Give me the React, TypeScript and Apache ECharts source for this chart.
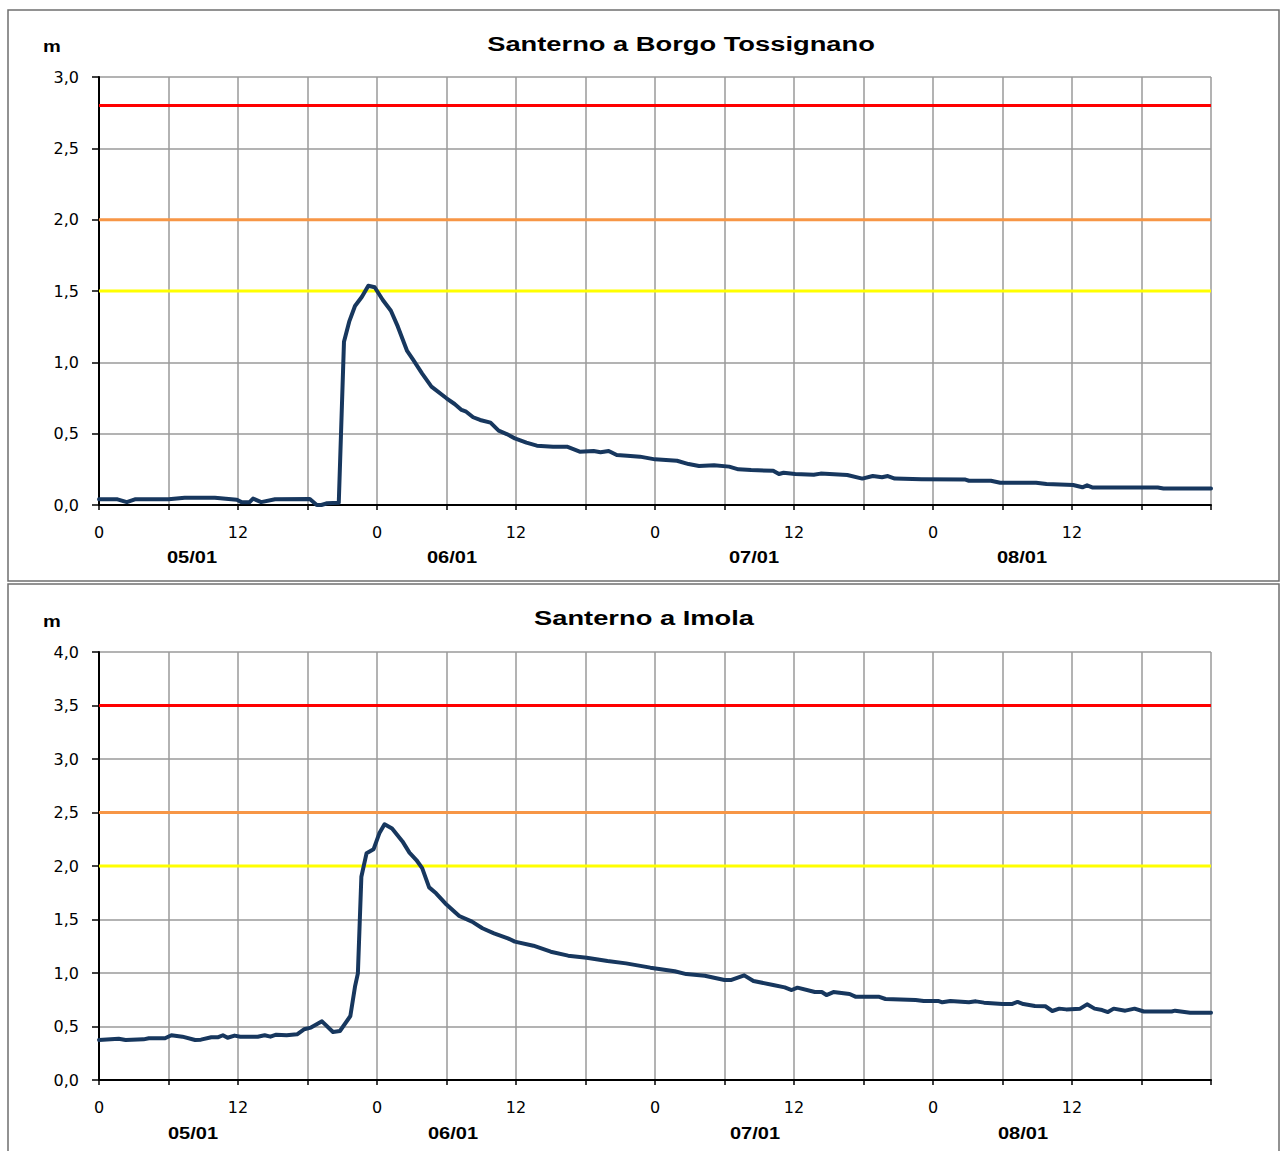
import React, { useEffect, useRef } from "react";
import * as echarts from "echarts";

// ---- Data (hours from 05/01 00:00, level in m) ----
const borgoHours = [0, 1.6, 2.4, 3.1, 6, 7.4, 10, 11.9, 12.3, 13, 13.3, 14, 15.2, 18.2, 18.8, 19.2, 19.7, 20.7, 21.15, 21.6, 22.1, 22.7, 23.25, 23.8, 24.5, 25.2, 25.8, 26.6, 27.1, 27.9, 28.7, 30, 30.7, 31.3, 31.7, 32.3, 32.9, 33.8, 34.5, 35.2, 35.9, 36.9, 37.8, 39.2, 40.4, 41.5, 42.7, 43.3, 44, 44.7, 45.6, 46.7, 48, 49.9, 50.9, 51.8, 53.1, 54.4, 55.2, 56.3, 58.2, 58.7, 59.1, 60.1, 61.7, 62.3, 64.6, 65.9, 66.8, 67.6, 68.1, 68.7, 71, 74.8, 75.1, 77, 77.8, 80.9, 81.8, 84.1, 84.9, 85.3, 85.8, 91.4, 91.9, 96];
const borgoLevels = [0.04, 0.04, 0.02, 0.04, 0.04, 0.05, 0.05, 0.037, 0.02, 0.02, 0.045, 0.02, 0.04, 0.042, 0, 0, 0.012, 0.016, 1.145, 1.285, 1.395, 1.46, 1.537, 1.526, 1.437, 1.362, 1.25, 1.08, 1.02, 0.921, 0.83, 0.748, 0.708, 0.666, 0.654, 0.615, 0.596, 0.577, 0.521, 0.497, 0.467, 0.437, 0.416, 0.409, 0.409, 0.374, 0.378, 0.37, 0.378, 0.35, 0.346, 0.339, 0.32, 0.31, 0.287, 0.273, 0.278, 0.269, 0.25, 0.245, 0.24, 0.217, 0.226, 0.217, 0.212, 0.22, 0.21, 0.185, 0.203, 0.194, 0.203, 0.185, 0.18, 0.178, 0.17, 0.17, 0.156, 0.156, 0.147, 0.14, 0.124, 0.138, 0.122, 0.122, 0.115, 0.115];

const imolaHours = [0, 1.7, 2.3, 3.85, 4.3, 5.7, 6.25, 7.2, 8.3, 8.8, 9.7, 10.3, 10.7, 11.1, 11.7, 12.2, 13.7, 14.3, 14.8, 15.3, 16.2, 17.1, 17.7, 18.3, 19.25, 20.2, 20.8, 21.7, 22.1, 22.35, 22.65, 23.1, 23.7, 24.2, 24.65, 25.3, 26.2, 26.8, 27.4, 27.9, 28.5, 29.1, 29.9, 31.1, 32.2, 33.1, 34.1, 35.3, 35.9, 37.5, 39, 40.5, 42.1, 43.9, 45.5, 47.6, 49.7, 50.7, 52.3, 54, 54.6, 55.7, 56.5, 58.2, 59.2, 59.8, 60.3, 61.8, 62.4, 62.8, 63.4, 64.8, 65.3, 67.3, 67.9, 70.5, 71.2, 72.5, 72.8, 73.5, 75.1, 75.7, 76.4, 78, 78.8, 79.3, 79.8, 80.8, 81.7, 82.3, 82.9, 83.5, 84.7, 85.3, 85.95, 86.6, 87.1, 87.6, 88.6, 89.4, 90.2, 92.6, 92.9, 94.2, 96];
const imolaLevels = [0.374, 0.386, 0.374, 0.38, 0.39, 0.39, 0.418, 0.405, 0.374, 0.377, 0.4, 0.4, 0.418, 0.395, 0.415, 0.405, 0.405, 0.418, 0.405, 0.424, 0.418, 0.427, 0.474, 0.49, 0.548, 0.449, 0.458, 0.598, 0.872, 0.997, 1.9, 2.12, 2.156, 2.305, 2.39, 2.35, 2.23, 2.125, 2.056, 1.98, 1.8, 1.745, 1.65, 1.533, 1.48, 1.418, 1.371, 1.324, 1.293, 1.255, 1.199, 1.162, 1.143, 1.112, 1.09, 1.05, 1.016, 0.99, 0.975, 0.935, 0.935, 0.978, 0.925, 0.888, 0.866, 0.841, 0.863, 0.822, 0.822, 0.794, 0.822, 0.804, 0.779, 0.779, 0.757, 0.748, 0.738, 0.738, 0.726, 0.738, 0.726, 0.735, 0.723, 0.71, 0.71, 0.73, 0.71, 0.692, 0.689, 0.645, 0.667, 0.66, 0.667, 0.707, 0.667, 0.654, 0.635, 0.667, 0.648, 0.667, 0.64, 0.64, 0.648, 0.629, 0.629];

const borgoThresholds = [2.8, 2.0, 1.5];
const imolaThresholds = [3.5, 2.5, 2.0];
const thresholdColors = ["#ff0000", "#f79646", "#ffff00"];

const titles = ["Santerno a Borgo Tossignano", "Santerno a Imola"];
const dayLabels = ["05/01", "06/01", "07/01", "08/01"];
const yMax = [3, 4];
const xRange = [0, 96];

const LINE_COLOR = "#17375e";

export default function App() {
  const ref = useRef<HTMLDivElement>(null);
  useEffect(() => {
    document.body.style.margin = "0";
    if (!ref.current) return;
    const chart = echarts.init(ref.current, undefined, { renderer: "svg" });

    const grids = [
      { left: 99, top: 77, width: 1112, height: 428 },
      { left: 99, top: 652, width: 1112, height: 428 },
    ];

    const xAxes = grids.map((_, i) => ({
      type: "value",
      gridIndex: i,
      min: xRange[0],
      max: xRange[1],
      interval: 6,
      axisLine: { show: true, onZero: false, lineStyle: { color: "#000", width: 2 } },
      axisTick: { show: true, inside: false, length: 5, lineStyle: { color: "#000", width: 1.5 } },
      splitLine: { show: true, lineStyle: { color: "#9a9a9a", width: 1.5 } },
      axisLabel: {
        margin: 19,
        color: "#000",
        fontSize: 16,
        fontFamily: "DejaVu Sans",
        showMaxLabel: true,
        formatter: (v: number) => (v >= 96 ? "" : v % 24 === 0 ? "0" : v % 24 === 12 ? "12" : ""),
      },
    }));

    const yAxes = grids.map((_, i) => ({
      type: "value",
      gridIndex: i,
      min: 0,
      max: yMax[i],
      interval: 0.5,
      axisLine: { show: true, lineStyle: { color: "#000", width: 2 } },
      axisTick: { show: true, inside: false, length: 7, lineStyle: { color: "#000", width: 1.5 } },
      splitLine: { show: true, lineStyle: { color: "#9a9a9a", width: 1.5 } },
      axisLabel: {
        margin: 20,
        color: "#000",
        fontSize: 16,
        fontFamily: "DejaVu Sans",
        formatter: (v: number) => v.toFixed(1).replace(".", ","),
      },
    }));

    const thresholdSeries: any[] = [];
    [borgoThresholds, imolaThresholds].forEach((ths, gi) => {
      ths.forEach((t, k) => {
        thresholdSeries.push({
          type: "line",
          xAxisIndex: gi,
          yAxisIndex: gi,
          data: [
            [xRange[0], t],
            [xRange[1], t],
          ],
          symbol: "none",
          silent: true,
          lineStyle: { color: thresholdColors[k], width: 3 },
          z: 2,
        });
      });
    });

    const dataSeries = [
      { hours: borgoHours, levels: borgoLevels },
      { hours: imolaHours, levels: imolaLevels },
    ].map((s, gi) => ({
      type: "line",
      xAxisIndex: gi,
      yAxisIndex: gi,
      data: s.hours.map((h, i) => [h, s.levels[i]]),
      symbol: "none",
      lineStyle: { color: LINE_COLOR, width: 4, cap: "round", join: "round" },
      z: 5,
    }));

    const dayX = [
      [192, 452, 754, 1022],
      [193, 453, 755, 1023],
    ];
    const dayY = [558, 1134];

    const graphics: any[] = [
      {
        type: "rect",
        shape: { x: 8, y: 10, width: 1271, height: 571 },
        style: { fill: "none", stroke: "#6f6f6f", lineWidth: 1.5 },
        z: 0,
        silent: true,
      },
      {
        type: "rect",
        shape: { x: 8, y: 584, width: 1271, height: 580 },
        style: { fill: "none", stroke: "#6f6f6f", lineWidth: 1.5 },
        z: 0,
        silent: true,
      },
    ];
    const titleX = [681, 644];
    const titleY = [44, 618];
    const mY = [47, 622];
    for (let gi = 0; gi < 2; gi++) {
      graphics.push({
        type: "text",
        x: titleX[gi],
        y: titleY[gi],
        scaleX: 1.3,
        style: {
          text: titles[gi],
          fill: "#000",
          fontSize: 21,
          fontWeight: "bold",
          fontFamily: "Liberation Sans",
          textAlign: "center",
          textVerticalAlign: "middle",
          align: "center",
          verticalAlign: "middle",
        },
      });
      graphics.push({
        type: "text",
        x: 52,
        y: mY[gi],
        scaleX: 1.25,
        style: {
          text: "m",
          fill: "#000",
          fontSize: 16,
          fontWeight: "bold",
          fontFamily: "Liberation Sans",
          textAlign: "center",
          textVerticalAlign: "middle",
          align: "center",
          verticalAlign: "middle",
        },
      });
      dayLabels.forEach((d, k) => {
        graphics.push({
          type: "text",
          x: dayX[gi][k],
          y: dayY[gi],
          scaleX: 1.25,
          style: {
            text: d,
            fill: "#000",
            fontSize: 16,
            fontWeight: "bold",
            fontFamily: "Liberation Sans",
            textAlign: "center",
            textVerticalAlign: "middle",
            align: "center",
            verticalAlign: "middle",
          },
        });
      });
    }

    chart.setOption({
      animation: false,
      backgroundColor: "#ffffff",
      grid: grids,
      xAxis: xAxes,
      yAxis: yAxes,
      series: [...thresholdSeries, ...dataSeries],
      graphic: graphics,
    });

    return () => {
      chart.dispose();
    };
  }, []);

  return <div ref={ref} style={{ width: 1280, height: 1151 }} />;
}
